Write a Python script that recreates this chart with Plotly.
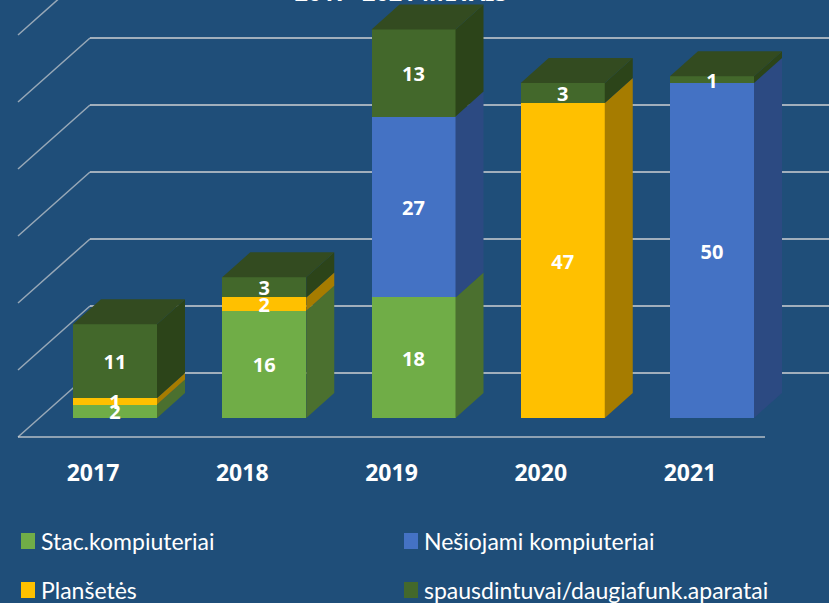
import plotly.graph_objects as go

years = ["2017", "2018", "2019", "2020", "2021"]
stac = [2, 16, 18, 0, 0]
nesiojami = [0, 0, 27, 0, 50]
planse = [1, 2, 0, 47, 0]
spaus = [11, 3, 13, 3, 1]
series_names = ["Stac.kompiuteriai", "Nešiojami kompiuteriai", "Planšetės", "spausdintuvai/daugiafunk.aparatai"]
series_values = [stac, nesiojami, planse, spaus]
front_colors = ["#70AD47", "#4472C4", "#FFC000", "#43682B"]
side_colors = ["#4B702F", "#2C4A82", "#A67C00", "#2C4419"]
top_color = "#334B20"
title_text = "2017- 2021 METAIS"
wall_ticks = [0, 10, 20, 30, 40, 50, 60]

BG = "#1F4E79"
W, H = 829, 603
PLOT_H = 457
PX_X = 149.25   # px per category
PX_Y = 6.7      # px per unit
X0_PX, Y0_PX = 115, 418
BAR_W = 84 / PX_X
DX, DY = 28 / PX_X, 25 / PX_Y          # bar depth
WALL_DX, WALL_DY = 72 / PX_X, 64 / PX_Y  # floor depth
FLOOR_X = (18 - X0_PX) / PX_X
FLOOR_Y = (Y0_PX - 437) / PX_Y
FLOOR_END = (765 - X0_PX) / PX_X
LABEL_SHIFT = -3 / PX_Y

fig = go.Figure()

# stacked bar fronts
for name, vals, col in zip(series_names, series_values, front_colors):
    fig.add_trace(go.Bar(x=list(range(len(years))), y=vals, name=name, width=BAR_W,
                         marker=dict(color=col, line=dict(width=0)), hoverinfo="skip",
                         showlegend=False))

# side and top faces + labels, derived from the values
lx, ly, lt = [], [], []
for i in range(len(years)):
    base = 0
    r = i + BAR_W / 2
    l = i - BAR_W / 2
    for vals, col in zip(series_values, side_colors):
        v = vals[i]
        if v == 0:
            continue
        top = base + v
        fig.add_trace(go.Scatter(x=[r, r + DX, r + DX, r, r],
                                 y=[base, base + DY, top + DY, top, base],
                                 mode="lines", fill="toself", fillcolor=col,
                                 line=dict(width=0, color=col), hoverinfo="skip", showlegend=False))
        lx.append(i)
        ly.append(base + v / 2 + LABEL_SHIFT)
        lt.append(str(v))
        base = top
    fig.add_trace(go.Scatter(x=[l, r, r + DX, l + DX, l],
                             y=[base, base, base + DY, base + DY, base],
                             mode="lines", fill="toself", fillcolor=top_color,
                             line=dict(width=0, color=top_color), hoverinfo="skip", showlegend=False))

fig.add_trace(go.Scatter(x=lx, y=ly, text=lt, mode="text", hoverinfo="skip", showlegend=False,
                         textfont=dict(family="Noto Sans", size=20, color="white", weight="bold")))

# wall / floor grid, underneath the bars
shapes = []
xmax = (W - X0_PX) / PX_X
for t in wall_ticks:
    y_front = FLOOR_Y + t
    y_back = y_front + WALL_DY
    shapes.append(dict(type="line", xref="x", yref="y", layer="below",
                       x0=FLOOR_X, y0=y_front, x1=FLOOR_X + WALL_DX, y1=y_back,
                       line=dict(color="rgba(217,217,217,0.65)", width=1.5)))
    shapes.append(dict(type="line", xref="x", yref="y", layer="below",
                       x0=FLOOR_X + WALL_DX, y0=y_back, x1=xmax, y1=y_back,
                       line=dict(color="rgba(217,217,217,0.7)", width=2)))
shapes.append(dict(type="line", xref="x", yref="y", layer="below",
                   x0=FLOOR_X, y0=FLOOR_Y, x1=FLOOR_END, y1=FLOOR_Y,
                   line=dict(color="rgba(217,217,217,0.6)", width=2)))

# legend (two columns, placed under the axis)
annotations = []
leg_pos = [(21, 541), (404, 541), (21, 590), (404, 590)]
for (px, py), name, col in zip(leg_pos, series_names, front_colors):
    shapes.append(dict(type="rect", xref="paper", yref="paper",
                       x0=px / W, x1=(px + 14) / W,
                       y0=(PLOT_H - py - 8) / PLOT_H, y1=(PLOT_H - py + 8) / PLOT_H,
                       fillcolor=col, line=dict(width=0)))
    annotations.append(dict(text=name, xref="paper", yref="paper",
                            x=(px + 18) / W, y=(PLOT_H - py) / PLOT_H,
                            xanchor="left", yanchor="middle", showarrow=False,
                            font=dict(family="Lato", size=23, color="white")))

fig.update_layout(
    width=W, height=H, autosize=False,
    margin=dict(l=0, r=0, t=0, b=H - PLOT_H, pad=0),
    paper_bgcolor=BG, plot_bgcolor=BG,
    barmode="stack", bargap=0,
    showlegend=False,
    title=dict(text=title_text, x=401 / W, xanchor="center", y=0.999, yanchor="bottom",
               font=dict(family="Noto Sans", size=23.5, color="white", weight="bold"), pad=dict(b=0)),
    xaxis=dict(range=[-X0_PX / PX_X, xmax], showgrid=False, zeroline=False, showline=False,
               tickmode="array", tickvals=[i - 22 / PX_X for i in range(len(years))], ticktext=years,
               ticks="", tickfont=dict(family="Noto Sans", size=23, color="white", weight="bold")),
    yaxis=dict(range=[(Y0_PX - PLOT_H) / PX_Y, Y0_PX / PX_Y], showgrid=False, zeroline=False,
               showline=False, showticklabels=False, ticks=""),
    shapes=shapes, annotations=annotations,
)

fig.write_html("out.html", config=dict(displayModeBar=False),
               post_script="document.body.style.margin='0';document.body.style.overflow='hidden';")
